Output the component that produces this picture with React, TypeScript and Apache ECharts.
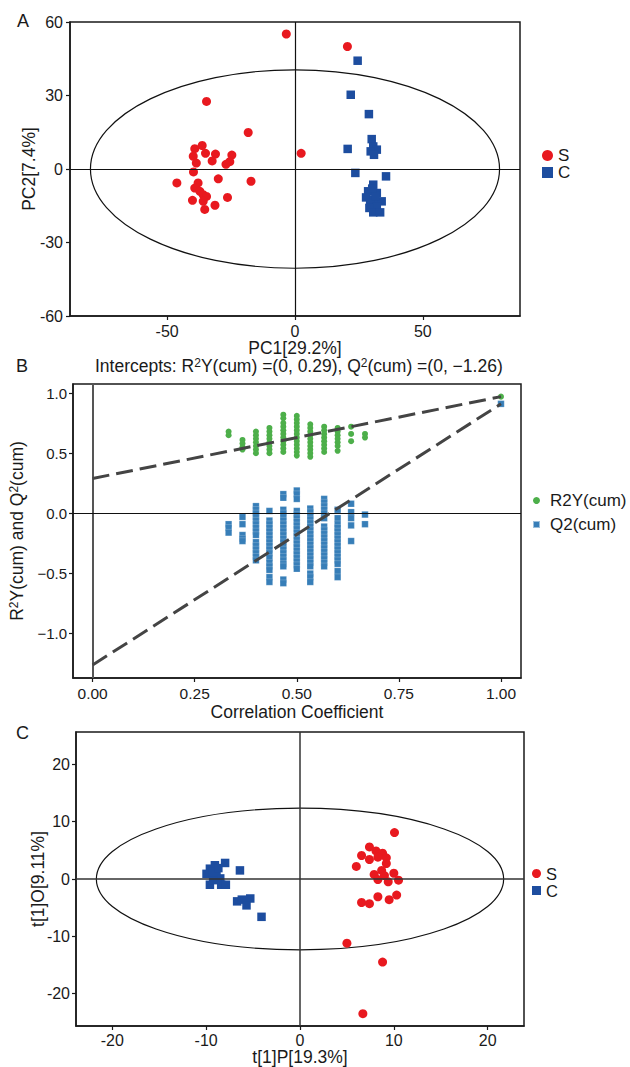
import React, { useEffect, useRef } from "react";
import * as echarts from "echarts";

const FONT = '"Liberation Sans", Arial, Helvetica, sans-serif';
const TXT = "#1a1a1a";
const RED = "#e8191f";
const NAVY = "#1d4d9f";
const GREEN = "#4daf4a";
const BLUE = "#377eb8";
const NAME_FS = 17.5;

// ---------- Panel A (PCA) ----------
const aTicksX = [-50, 0, 50];
const aTicksY = [-60, -30, 0, 30, 60];
const aEllipse = [80, 40.5];
const aS: number[][] = [
  [-3.4, 55.1], [20.5, 50.0], [-34.6, 27.6], [-18.3, 14.9], [2.4, 6.4], [-36.3, 9.6],
  [-39.2, 8.3], [-35.0, 6.4], [-39.8, 5.2], [-31.1, 6.1], [-24.7, 5.7], [-32.4, 3.3],
  [-25.5, 3.0], [-27.0, 1.9], [-38.6, 2.4], [-39.7, -1.2], [-46.2, -5.7], [-30.0, -4.0],
  [-17.2, -5.0], [-37.9, -5.7], [-39.2, -7.8], [-37.2, -9.1], [-35.9, -10.5], [-34.6, -11.2],
  [-40.1, -12.8], [-35.9, -13.2], [-26.4, -11.6], [-31.3, -14.8], [-35.3, -16.5],
];
const aC: number[][] = [
  [24.5, 44.2], [21.8, 30.3], [28.9, 22.4], [30.0, 12.2], [20.6, 8.2], [30.6, 9.2],
  [32.0, 7.9], [29.6, 7.2], [30.9, 5.8], [23.6, -1.6], [35.6, -3.0], [30.6, -6.4],
  [28.6, -9.1], [32.0, -9.8], [27.8, -11.6], [30.9, -12.5], [33.9, -13.2], [29.4, -13.9],
  [32.0, -15.3], [29.1, -15.9], [30.6, -17.7], [33.3, -17.7], [31.5, -11.0], [30.2, -8.0],
];

// ---------- Panel B (permutation test) ----------
const bTicksX = [0, 0.25, 0.5, 0.75, 1.0];
const bTicksY = [-1.0, -0.5, 0, 0.5, 1.0];
const permX = [0.333, 0.367, 0.4, 0.433, 0.467, 0.5, 0.533, 0.567, 0.6, 0.633, 0.667, 1.0];
const r2yVals: number[][] = [
  [0.68, 0.65],
  [0.61, 0.58, 0.55, 0.53],
  [0.68, 0.65, 0.62, 0.59, 0.56, 0.53, 0.5],
  [0.71, 0.68, 0.65, 0.62, 0.59, 0.56, 0.53, 0.5],
  [0.82, 0.79, 0.75, 0.72, 0.69, 0.66, 0.63, 0.6, 0.57, 0.54, 0.51],
  [0.81, 0.78, 0.75, 0.72, 0.69, 0.66, 0.63, 0.6, 0.57, 0.54, 0.51, 0.48],
  [0.74, 0.71, 0.68, 0.65, 0.62, 0.59, 0.56, 0.53, 0.5, 0.47],
  [0.72, 0.69, 0.66, 0.63, 0.6, 0.57, 0.54, 0.51],
  [0.71, 0.68, 0.65, 0.62, 0.59, 0.56, 0.52],
  [0.72, 0.66, 0.6],
  [0.66, 0.63],
  [0.97],
];
const q2Vals: number[][] = [
  [-0.09, -0.12, -0.16],
  [-0.03, -0.09, -0.18, -0.21, -0.23],
  [0.06, 0.03, 0.0, -0.03, -0.06, -0.09, -0.12, -0.15, -0.18, -0.24, -0.27, -0.3, -0.33, -0.36, -0.39],
  [0.02, -0.06, -0.09, -0.12, -0.15, -0.18, -0.21, -0.24, -0.27, -0.3, -0.33, -0.37, -0.41, -0.44, -0.47, -0.53, -0.57],
  [0.16, 0.13, 0.03, 0.0, -0.03, -0.06, -0.09, -0.12, -0.15, -0.18, -0.21, -0.24, -0.27, -0.3, -0.33, -0.36, -0.39, -0.42, -0.44, -0.55, -0.58],
  [0.19, 0.16, 0.12, 0.02, -0.01, -0.04, -0.07, -0.1, -0.13, -0.16, -0.19, -0.22, -0.25, -0.28, -0.31, -0.34, -0.37, -0.4, -0.43, -0.46],
  [0.04, 0.01, -0.02, -0.05, -0.08, -0.11, -0.14, -0.17, -0.2, -0.23, -0.26, -0.29, -0.32, -0.35, -0.38, -0.41, -0.44, -0.5, -0.53, -0.57],
  [0.12, 0.09, 0.06, 0.03, 0.0, -0.04, -0.11, -0.14, -0.17, -0.2, -0.23, -0.26, -0.29, -0.32, -0.35, -0.38, -0.41, -0.44],
  [0.03, -0.04, -0.09, -0.12, -0.15, -0.18, -0.21, -0.24, -0.27, -0.3, -0.33, -0.36, -0.39, -0.42, -0.48, -0.53],
  [0.08, 0.01, -0.04, -0.1, -0.23],
  [-0.01, -0.09],
  [0.91],
];
const r2yLine: number[][] = [[0, 0.29], [1, 0.97]];
const q2Line: number[][] = [[0, -1.26], [1, 0.91]];

// ---------- Panel C (OPLS-DA) ----------
const cTicks = [-20, -10, 0, 10, 20];
const cEllipse = [21.7, 12.35];
const cS: number[][] = [
  [10.07, 8.1], [7.4, 5.6], [8.1, 4.9], [8.8, 4.5], [8.5, 4.3], [6.56, 4.1], [9.2, 3.7],
  [7.4, 3.4], [8.3, 3.8], [9.2, 2.7], [6.0, 2.2], [8.7, 1.5], [7.9, 0.8], [10.0, 1.0],
  [9.0, 0.6], [8.3, -0.1], [10.5, -0.2], [9.4, -0.5], [8.3, -3.1], [10.3, -2.8], [9.5, -3.6],
  [6.56, -4.1], [7.4, -4.3], [5.0, -11.2], [8.8, -14.5], [6.7, -23.5],
];
const cC: number[][] = [
  [-7.98, 2.8], [-6.4, 1.5], [-9.07, 2.4], [-9.6, 1.8], [-9.96, 0.9], [-8.9, 0.9],
  [-8.5, 0.1], [-9.6, -1.0], [-8.4, -1.0], [-7.9, -1.0], [-9.26, -0.2], [-6.7, -3.9],
  [-6.2, -3.6], [-5.3, -3.4], [-5.7, -4.6], [-4.1, -6.6], [-9.3, 1.2], [-8.7, 1.9],
];

const toPairs = (xs: number[], vals: number[][]) =>
  xs.flatMap((x, i) => vals[i].map((y) => [x, y]));

const ellipseSeries = (idx: number, r: number[]) => ({
  type: "custom",
  xAxisIndex: idx,
  yAxisIndex: idx,
  silent: true,
  z: 1,
  data: [[0, 0, r[0], r[1]]],
  renderItem: (params: any, api: any) => {
    const c = api.coord([api.value(0), api.value(1)]);
    const e = api.coord([api.value(0) + api.value(2), api.value(1) + api.value(3)]);
    return {
      type: "ellipse",
      shape: { cx: c[0], cy: c[1], rx: Math.abs(e[0] - c[0]), ry: Math.abs(c[1] - e[1]) },
      style: { fill: "none", stroke: "#111", lineWidth: 1.2 },
    };
  },
});

const zeroLines = (color: string, w: number, vColor?: string, vW?: number) => ({
  silent: true,
  symbol: "none",
  label: { show: false },
  animation: false,
  data: [
    { xAxis: 0, lineStyle: { color: vColor || color, width: vW || w, type: "solid" } },
    { yAxis: 0, lineStyle: { color, width: w, type: "solid" } },
  ],
});

const axisBase = (fontSize: number, margin: number, ticks: number[], fmt?: (v: number) => string) => ({
  type: "value",
  splitLine: { show: false },
  nameMoveOverlap: false,
  axisLine: { show: true, onZero: false, lineStyle: { color: "#1a1a1a", width: 1.5 } },
  axisTick: { show: true, inside: false, length: 4, customValues: ticks, lineStyle: { color: "#1a1a1a", width: 1.2 } },
  axisLabel: { color: TXT, fontSize, fontFamily: FONT, margin, customValues: ticks, ...(fmt ? { formatter: fmt } : {}) },
  nameLocation: "middle",
  nameTextStyle: { color: TXT, fontSize: NAME_FS, fontFamily: FONT },
});

export default function App() {
  const ref = useRef<HTMLDivElement>(null);
  useEffect(() => {
    if (!ref.current) return;
    const chart = echarts.init(ref.current, undefined, { renderer: "svg" });
    const fmtB = (v: number, d: number) => (v < 0 ? "\u2212" : "") + Math.abs(v).toFixed(d);
    const supRich = {
      n: { fontSize: NAME_FS, fontFamily: FONT, color: TXT, lineHeight: 18 },
      sup: { fontSize: 12, fontFamily: FONT, color: TXT, lineHeight: 12, verticalAlign: "top" },
    };
    const option: any = {
      animation: false,
      backgroundColor: "#fff",
      textStyle: { fontFamily: FONT },
      grid: [
        { left: 70, top: 22, width: 450, height: 294, show: true, borderColor: "#1a1a1a", borderWidth: 1.5, backgroundColor: "transparent" },
        { left: 73, top: 384, width: 448, height: 294, show: true, borderColor: "#1a1a1a", borderWidth: 1.5, backgroundColor: "transparent" },
        { left: 76, top: 732, width: 448, height: 294, show: true, borderColor: "#1a1a1a", borderWidth: 1.5, backgroundColor: "transparent" },
      ],
      xAxis: [
        { ...axisBase(16, 7, aTicksX), gridIndex: 0, min: -88, max: 88, name: "PC1[29.2%]", nameGap: 23 },
        {
          ...axisBase(15.5, 7, bTicksX, (v: number) => fmtB(v, 2)),
          gridIndex: 1, min: -0.048, max: 1.049, name: "Correlation Coefficient", nameGap: 25,
        },
        { ...axisBase(16, 6, cTicks), gridIndex: 2, min: -23.87, max: 23.87, name: "t[1]P[19.3%]", nameGap: 22 },
      ],
      yAxis: [
        { ...axisBase(16, 7, aTicksY), gridIndex: 0, min: -60, max: 60, name: "PC2[7.4%]", nameGap: 32 },
        {
          ...axisBase(15, 6, bTicksY, (v: number) => fmtB(v, 1)),
          gridIndex: 1, min: -1.368, max: 1.075, nameGap: 47,
          name: "{n|R}{sup|2}{n|Y(cum) and Q}{sup|2}{n|(cum)}",
          nameTextStyle: { color: TXT, fontSize: NAME_FS, fontFamily: FONT, rich: supRich },
        },
        { ...axisBase(16, 6, cTicks), gridIndex: 2, min: -25.65, max: 25.65, name: "t[1]O[9.11%]", nameGap: 29 },
      ],
      title: [
        {
          text: "{n|Intercepts: R}{sup|2}{n|Y(cum) =(0, 0.29), Q}{sup|2}{n|(cum) =(0, \u22121.26)}",
          left: 95, top: 357, padding: 0,
          textStyle: { fontSize: NAME_FS, fontFamily: FONT, color: TXT, fontWeight: "normal", rich: supRich },
        },
      ],
      legend: [
        {
          orient: "vertical", left: 542, top: 147, itemWidth: 11, itemHeight: 11, itemGap: 0, padding: 0,
          data: [{ name: "S", icon: "circle" }, { name: "C", icon: "rect" }],
          textStyle: { fontSize: 17, fontFamily: FONT, color: TXT },
          selectedMode: false,
        },
        {
          orient: "vertical", left: 532, top: 492, itemWidth: 7, itemHeight: 7, itemGap: 7, padding: 0,
          data: [{ name: "R2Y(cum)", icon: "circle" }, { name: "Q2(cum)", icon: "rect" }],
          textStyle: { fontSize: 17, fontFamily: FONT, color: TXT, padding: [0, 0, 0, 5] },
          selectedMode: false,
        },
        {
          orient: "vertical", left: 532, top: 865, itemWidth: 9, itemHeight: 9, itemGap: 0, padding: 0,
          data: [{ name: "S", icon: "circle" }, { name: "C", icon: "rect" }],
          textStyle: { fontSize: 16.5, fontFamily: FONT, color: TXT },
          selectedMode: false,
        },
      ],
      graphic: [
        { type: "text", left: 17, top: 12, style: { text: "A", fontSize: 18, fontFamily: FONT, fill: TXT } },
        { type: "text", left: 16, top: 357, style: { text: "B", fontSize: 18, fontFamily: FONT, fill: TXT } },
        { type: "text", left: 16, top: 724, style: { text: "C", fontSize: 18, fontFamily: FONT, fill: TXT } },
      ],
      series: [
        ellipseSeries(0, aEllipse),
        {
          name: "S", type: "scatter", xAxisIndex: 0, yAxisIndex: 0, symbol: "circle", symbolSize: 9,
          itemStyle: { color: RED, opacity: 1 }, data: aS, z: 3,
          markLine: zeroLines("#111", 1.2),
        },
        {
          name: "C", type: "scatter", xAxisIndex: 0, yAxisIndex: 0, symbol: "rect", symbolSize: 8.5,
          itemStyle: { color: NAVY, opacity: 1 }, data: aC, z: 3,
        },
        {
          name: "R2Y(cum)", type: "scatter", xAxisIndex: 1, yAxisIndex: 1, symbol: "circle", symbolSize: 6,
          itemStyle: { color: GREEN, opacity: 1 }, data: toPairs(permX, r2yVals), z: 3,
          markLine: zeroLines("#111", 1.2, "#555", 2),
        },
        {
          name: "Q2(cum)", type: "scatter", xAxisIndex: 1, yAxisIndex: 1, symbol: "rect", symbolSize: 6.5,
          itemStyle: { color: BLUE, opacity: 1, borderColor: "rgba(255,255,255,0.5)", borderWidth: 0.4 },
          data: toPairs(permX, q2Vals), z: 3,
        },
        {
          type: "line", xAxisIndex: 1, yAxisIndex: 1, data: r2yLine, symbol: "none", silent: true, z: 10,
          lineStyle: { color: "#444", width: 3, type: [17, 7] },
        },
        {
          type: "line", xAxisIndex: 1, yAxisIndex: 1, data: q2Line, symbol: "none", silent: true, z: 10,
          lineStyle: { color: "#444", width: 3, type: [17, 7] },
        },
        ellipseSeries(2, cEllipse),
        {
          name: "S", type: "scatter", xAxisIndex: 2, yAxisIndex: 2, symbol: "circle", symbolSize: 9,
          itemStyle: { color: RED, opacity: 1 }, data: cS, z: 3,
          markLine: zeroLines("#333", 1.5),
        },
        {
          name: "C", type: "scatter", xAxisIndex: 2, yAxisIndex: 2, symbol: "rect", symbolSize: 8.5,
          itemStyle: { color: NAVY, opacity: 1 }, data: cC, z: 3,
        },
      ],
    };
    chart.setOption(option);
    return () => chart.dispose();
  }, []);
  return (
    <div
      ref={ref}
      style={{ position: "absolute", left: 0, top: 0, width: 630, height: 1067, background: "#fff" }}
    />
  );
}
